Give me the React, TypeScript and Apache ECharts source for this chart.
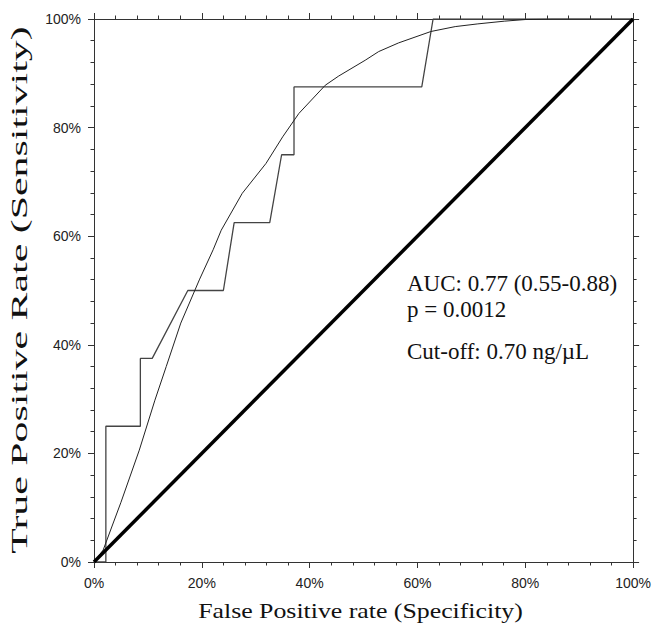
import React, { useEffect, useRef } from "react";
import * as echarts from "echarts";

// Empirical (step) ROC curve: [FPR %, TPR %]
const stepX = [0, 2.2, 2.2, 8.6, 8.6, 10.8, 17.4, 24.0, 26.0, 32.6, 34.8, 37.1, 37.1, 60.8, 62.9, 100];
const stepY = [0, 0, 25, 25, 37.5, 37.5, 50, 50, 62.5, 62.5, 75, 75, 87.5, 87.5, 100, 100];

// Fitted (smooth) ROC curve
const fitX = [0, 1.7, 5, 8.4, 11.3, 13.4, 16.1, 19.6, 22.1, 23.6, 27.5, 31.9, 35, 38.0, 42.9, 45.4, 50.3, 52.8, 56.5, 62.5, 67, 71.2, 76.1, 80, 85, 100];
const fitY = [0, 2.2, 11, 20.6, 29.8, 36.0, 44.0, 52.1, 57.5, 61.1, 67.9, 73.4, 78.3, 82.6, 87.8, 89.5, 92.4, 94.0, 95.6, 97.7, 98.6, 99.1, 99.6, 99.9, 100, 100];

// Reference diagonal
const diagX = [0, 100];
const diagY = [0, 100];

const tickValues = [0, 20, 40, 60, 80, 100];

const xTitle = "False Positive rate (Specificity)";
const yTitle = "True Positive Rate (Sensitivity)";
const annotations = ["AUC: 0.77 (0.55-0.88)", "p = 0.0012", "Cut-off: 0.70 ng/\u00B5L"];

const zip = (xs: number[], ys: number[]) => xs.map((x, i) => [x, ys[i]]);

export default function App() {
  const ref = useRef<HTMLDivElement>(null);
  useEffect(() => {
    if (!ref.current) return;
    const chart = echarts.init(ref.current, undefined, { renderer: "svg" });
    const axisColor = "#333";
    const labelStyle = {
      fontFamily: "Liberation Sans",
      fontSize: 14,
      color: "#222",
    };
    const baseAxis = (show: boolean, margin: number) => ({
      type: "value" as const,
      min: 0,
      max: 100,
      interval: 20,
      axisLine: { show: true, onZero: false, lineStyle: { color: axisColor, width: 1 } },
      axisTick: { show: true, inside: false, length: 6, lineStyle: { color: axisColor } },
      minorTick: { show: true, splitNumber: 5, length: 3.5, lineStyle: { color: axisColor } },
      splitLine: { show: false },
      minorSplitLine: { show: false },
      axisLabel: show
        ? { show: true, formatter: (v: number) => (tickValues.includes(v) ? v + "%" : ""), margin, ...labelStyle }
        : { show: false },
    });
    const annFont = "23px 'Liberation Serif'";
    chart.setOption({
      animation: false,
      backgroundColor: "#fff",
      grid: { left: 94, right: 18, top: 19, bottom: 61, containLabel: false },
      xAxis: [
        { ...baseAxis(true, 14), position: "bottom" },
        { ...baseAxis(false, 0), position: "top" },
      ],
      yAxis: [
        { ...baseAxis(true, 13), position: "left" },
        { ...baseAxis(false, 0), position: "right" },
      ],
      series: [
        {
          type: "line",
          data: zip(diagX, diagY),
          symbol: "none",
          lineStyle: { color: "#000", width: 3.5 },
          z: 3,
        },
        {
          type: "line",
          data: zip(stepX, stepY),
          symbol: "none",
          lineStyle: { color: "#444", width: 1.3 },
          z: 2,
        },
        {
          type: "line",
          data: zip(fitX, fitY),
          symbol: "none",
          lineStyle: { color: "#222", width: 1 },
          z: 2,
        },
      ],
      graphic: [
        {
          type: "text",
          x: 360.5,
          y: 610.5,
          scaleX: 1.23,
          style: {
            text: xTitle,
            font: "21px 'Liberation Serif'",
            fill: "#111",
            align: "center",
            verticalAlign: "middle",
          },
        },
        {
          type: "text",
          x: 19.5,
          y: 290,
          rotation: Math.PI / 2,
          scaleX: 1.82,
          style: {
            text: yTitle,
            font: "23px 'Liberation Serif'",
            fill: "#111",
            align: "center",
            verticalAlign: "middle",
          },
        },
        {
          type: "text",
          left: 407,
          top: 272,
          style: { text: annotations[0], font: annFont, fill: "#111" },
        },
        {
          type: "text",
          left: 407,
          top: 298,
          style: { text: annotations[1], font: annFont, fill: "#111" },
        },
        {
          type: "text",
          left: 407,
          top: 340,
          style: { text: annotations[2], font: annFont, fill: "#111" },
        },
      ],
    });
    return () => chart.dispose();
  }, []);
  return <div ref={ref} style={{ width: 654, height: 623, position: "absolute", left: 0, top: 0 }} />;
}
